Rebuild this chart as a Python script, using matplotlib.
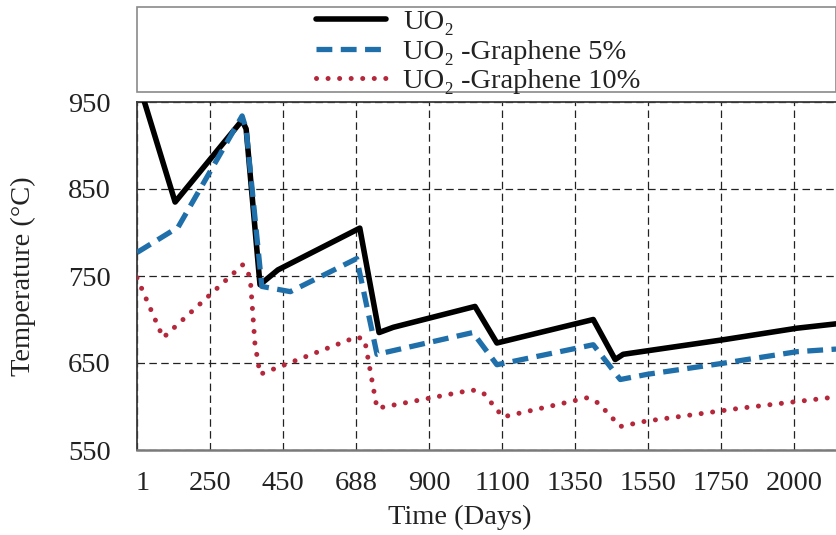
import numpy as np
import matplotlib
matplotlib.use("Agg")
import matplotlib.pyplot as plt
from matplotlib.patches import Rectangle
from matplotlib.transforms import ScaledTranslation

plt.rcParams['font.family'] = ['Liberation Serif', 'DejaVu Serif']

# ---- data ----
tick_days = [1, 250, 450, 688, 900, 1100, 1350, 1550, 1750, 2000]
tick_labels = ["1", "250", "450", "688", "900", "1100", "1350", "1550", "1750", "2000"]

uo2_days = [1, 131, 338, 349, 387, 436, 699, 755, 796, 1026, 1086, 1400, 1460, 1482, 1763, 2010, 2144]
uo2_temp = [978, 835, 929, 919, 740, 757, 805, 685, 691, 715, 673, 700, 654, 660, 677, 690, 695]

g5_days = [1, 141, 338, 349, 392, 474, 690, 749, 1020, 1086, 1400, 1474, 1548, 1763, 2010, 2144]
g5_temp = [777, 806, 934, 919, 738, 732, 770, 660, 685, 648, 671, 631, 637, 650, 663, 666]

g10_days = [1, 90, 340, 360, 373, 387, 690, 713, 749, 1018, 1048, 1103, 1383, 1414, 1474, 1542, 1815, 2144]
g10_temp = [748, 679, 763, 749, 673, 637, 680, 677, 598, 619, 616, 588, 610, 604, 577, 583, 598, 611]

labels = ["UO\u2082", "UO\u2082 -Graphene 5%", "UO\u2082 -Graphene 10%"]

# category-style axis: evenly spaced tick labels
ext_days = tick_days + [2250]
ext_pos = list(range(len(ext_days)))
def to_pos(d):
    return np.interp(d, ext_days, ext_pos)

W, H = 836, 535
FS = 20.5
fig = plt.figure(figsize=(W / 100, H / 100), dpi=100)
ax = fig.add_axes([137 / W, 1 - 450 / H, (836 - 137) / W, (450 - 102) / H])

black = '#000000'
blue = '#1F6FAA'
red = '#B5283C'

l1, = ax.plot(to_pos(uo2_days), uo2_temp, color=black, lw=4.0,
              solid_capstyle='round', solid_joinstyle='round', zorder=3)
l2, = ax.plot(to_pos(g5_days), g5_temp, color=blue, lw=3.8,
              linestyle=(0, (3.0, 1.6)), dash_capstyle='butt', zorder=4)
l3, = ax.plot(to_pos(g10_days), g10_temp, color=red, lw=3.6,
              linestyle=(0, (0.01, 2.3)), dash_capstyle='round', zorder=5)

ax.set_xlim(0, (836 - 137) / 73)
ax.set_ylim(550, 950)
ax.set_xticks(range(len(tick_days)))
ax.set_xticklabels(tick_labels)
ax.set_yticks([550, 650, 750, 850, 950])
ax.tick_params(axis='both', length=0, labelsize=FS, colors='#222222')
ax.tick_params(axis='y', pad=19)
ax.tick_params(axis='x', pad=15)
first = ax.get_xticklabels()[0]
first.set_transform(first.get_transform() + ScaledTranslation(6 / 100, 0, fig.dpi_scale_trans))

ax.grid(True, color='#222222', lw=0.9, linestyle=(0, (6, 3.5)), zorder=1)
ax.set_axisbelow(True)

for s in ['left', 'top']:
    ax.spines[s].set_color('#3a3a3a')
    ax.spines[s].set_linewidth(1.3)
ax.spines['bottom'].set_color('#7a7a7a')
ax.spines['bottom'].set_linewidth(1.8)
ax.spines['right'].set_visible(False)

ax.set_ylabel("Temperature (°C)", fontsize=FS, color='#222222')
ax.yaxis.set_label_coords((36 - 137) / 699, 0.5)
ax.set_xlabel("Time (Days)", fontsize=FS, color='#222222')
ax.xaxis.set_label_coords((460 - 137) / 699, -(505 - 450) / 348)

# legend frame
fig.patches.append(Rectangle((137 / W, 1 - 92 / H), (836 - 137) / W, (92 - 7) / H,
                             transform=fig.transFigure, fill=False,
                             edgecolor='#8a8a8a', lw=1.2))
leg = fig.legend([l1, l2, l3], labels, loc='upper left',
                 bbox_to_anchor=(316 / W, 1 - 9.5 / H), frameon=False,
                 fontsize=FS, handlelength=2.45, handletextpad=0.62,
                 labelspacing=0.12, borderpad=0, borderaxespad=0)
for t in leg.get_texts():
    t.set_color('#222222')

fig.savefig("out.png", dpi=100)
